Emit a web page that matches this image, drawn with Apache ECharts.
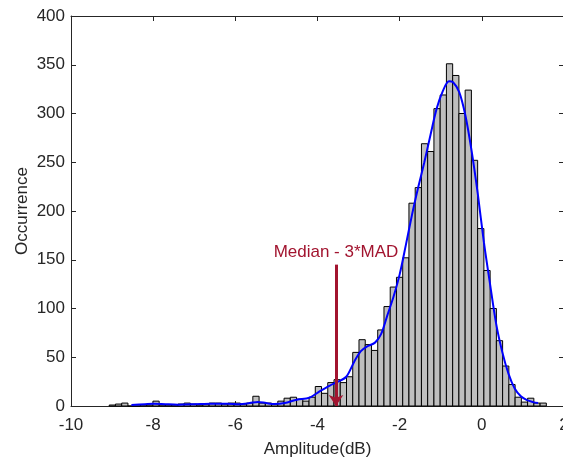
<!DOCTYPE html>
<html><head><meta charset="utf-8">
<script src="https://cdn.jsdelivr.net/npm/echarts@6/dist/echarts.min.js"></script>
<style>html,body{margin:0;padding:0;background:#fff}#c{width:563px;height:457px}</style>
</head><body><div id="c"></div>
<script>
// Histogram definition (bin edges) and counts
const binStart = -9.07;
const binWidth = 0.152;
const counts = [
  1, 2, 3, 0, 0, 1, 1, 5, 1, 1,
  1, 2, 3, 2, 1, 2, 3, 3, 2, 3,
  3, 2, 3, 10, 3, 3, 2, 5, 8, 9,
  7, 5, 9, 20, 13, 24, 27, 24, 30, 55,
  68, 63, 57, 78, 102, 122, 132, 152, 208, 224,
  269, 261, 305, 319, 351, 339, 300, 324, 252, 182,
  139, 100, 67, 41, 22, 9, 4, 8, 3, 3
];
// Smoothed density curve
const kdeX = [-8.53,-8.2,-8.0,-7.7,-7.4,-7.0,-6.6,-6.2,-5.9,-5.65,-5.45,-5.25,-5.05,-4.8,-4.5,-4.2,-3.95,-3.7,-3.5,-3.3,-3.1,-2.95,-2.8,-2.6,-2.45,-2.3,-2.15,-2.0,-1.85,-1.7,-1.55,-1.4,-1.25,-1.1,-0.95,-0.8,-0.7,-0.55,-0.4,-0.25,-0.1,0.05,0.2,0.35,0.5,0.65,0.8,0.95,1.1,1.25,1.37];
const kdeY = [1,1.8,2.3,1.8,1.4,1.8,2.3,2.4,1.9,3,4.2,3,2,3,6.5,8.5,15,21,25,30,46,56,61,65,74,93,112,135,165,196,224,250,278,305,323,333,332,322,298,262,218,168,125,84,55,33,18,10,6,4,3];
// Axis ticks
const xMin = -10, xMax = 2, xStep = 2;
const yMin = 0, yMax = 400, yStep = 50;
// Annotation
const annotX = -3.55;
const annotTop = 145;
const annotText = 'Median - 3*MAD';
const xName = 'Amplitude(dB)';
const yName = 'Occurrence';

const barData = counts.map((c, i) => [binStart + i * binWidth, binStart + (i + 1) * binWidth, c]);
const kdeData = kdeX.map((x, i) => [x, kdeY[i]]);

const FONT = 'Liberation Sans, Arial, Helvetica, sans-serif';
const AX = '#262626';
const chart = echarts.init(document.getElementById('c'), null, {renderer: 'canvas'});
const axisCommon = {
  axisLine: {show: true, onZero: false, lineStyle: {color: AX, width: 1}},
  axisTick: {show: true, inside: true, length: 5, lineStyle: {color: AX}},
  splitLine: {show: false}
};
chart.setOption({
  animation: false,
  backgroundColor: '#fff',
  grid: {left: 71, top: 16, width: 493, height: 390, containLabel: false, outerBoundsMode: 'none'},
  xAxis: [
    Object.assign({type: 'value', min: xMin, max: xMax, interval: xStep, position: 'bottom',
      name: xName, nameLocation: 'middle', nameGap: 35,
      nameTextStyle: {fontFamily: FONT, fontSize: 17, color: AX},
      axisLabel: {fontFamily: FONT, fontSize: 17, color: AX, margin: 11, showMaxLabel: true, showMinLabel: true}}, axisCommon),
    Object.assign({type: 'value', min: xMin, max: xMax, interval: xStep, position: 'top',
      axisLabel: {show: false}}, axisCommon)
  ],
  yAxis: [
    Object.assign({type: 'value', min: yMin, max: yMax, interval: yStep, position: 'left',
      name: yName, nameLocation: 'middle', nameGap: 40, nameRotate: 90, nameMoveOverlap: false,
      nameTextStyle: {fontFamily: FONT, fontSize: 17, color: AX},
      axisLabel: {fontFamily: FONT, fontSize: 17, color: AX, margin: 6}}, axisCommon),
    Object.assign({type: 'value', min: yMin, max: yMax, interval: yStep, position: 'right',
      axisLabel: {show: false}}, axisCommon)
  ],
  series: [
    {
      type: 'custom',
      xAxisIndex: 0, yAxisIndex: 0,
      data: barData,
      encode: {x: [0, 1], y: 2},
      renderItem: function (params, api) {
        const x0 = api.value(0), x1 = api.value(1), y = api.value(2);
        const p0 = api.coord([x0, y]);
        const p1 = api.coord([x1, 0]);
        return {
          type: 'rect',
          shape: {x: p0[0], y: p0[1], width: p1[0] - p0[0], height: p1[1] - p0[1]},
          style: {fill: '#bfbfbf', stroke: '#000', lineWidth: 1}
        };
      },
      z: 2
    },
    {
      type: 'line',
      xAxisIndex: 0, yAxisIndex: 0,
      data: kdeData,
      smooth: 0.3,
      showSymbol: false,
      lineStyle: {color: '#0000ff', width: 2},
      z: 3,
      markLine: {
        silent: true,
        symbol: ['none', 'arrow'],
        symbolSize: 11,
        lineStyle: {color: '#A2142F', width: 3, type: 'solid'},
        label: {show: true, position: 'start', formatter: annotText, color: '#A2142F',
          fontFamily: FONT, fontSize: 17, distance: 4},
        data: [[{coord: [annotX, annotTop]}, {coord: [annotX, 0]}]]
      }
    }
  ]
});
</script>
</body></html>
